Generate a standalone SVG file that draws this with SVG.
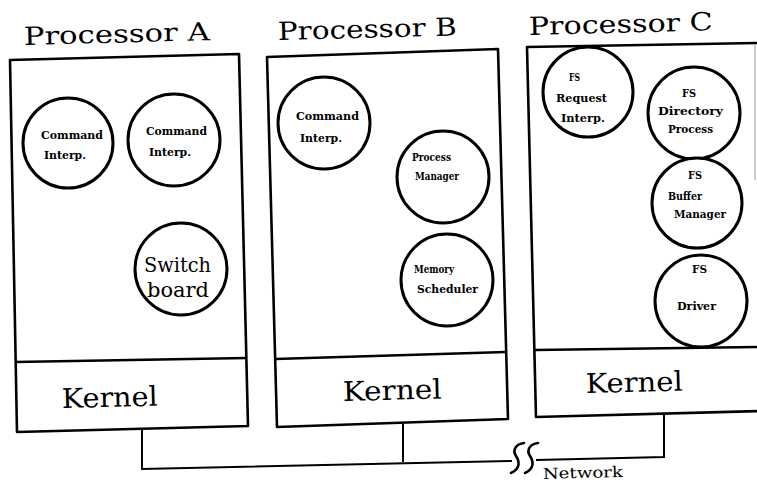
<svg xmlns="http://www.w3.org/2000/svg" width="757" height="483" viewBox="0 0 757 483">
<style>
.box{fill:none;stroke:#000;stroke-width:2.6;stroke-linejoin:round}
.div{fill:none;stroke:#000;stroke-width:2.6}
.node{fill:#fff;stroke:#000;stroke-width:3}
.title{font-family:"DejaVu Serif","Liberation Serif",serif;font-size:25px;fill:#000}
.kern{font-family:"DejaVu Serif","Liberation Serif",serif;font-size:27px;fill:#000}
.sw{font-family:"DejaVu Serif","Liberation Serif",serif;font-size:20px;fill:#000}
.lbl{font-family:"DejaVu Serif","Liberation Serif",serif;font-weight:bold;font-size:10.5px;fill:#000}
.net{font-family:"DejaVu Serif","Liberation Serif",serif;font-size:15px;fill:#000}
.wire{fill:none;stroke:#000;stroke-width:2}
.brk{fill:none;stroke:#000;stroke-width:2.6;stroke-linecap:round}
</style>

<g id="processor-a">
  <text class="title" x="24" y="45" textLength="186" lengthAdjust="spacingAndGlyphs" transform="rotate(-1.5 24 45)">Processor A</text>
  <polygon class="box" points="10,60 239,54 248,426 17,432"/>
  <line class="div" x1="15" y1="362" x2="247" y2="358"/>
  <text class="kern" x="62" y="408" textLength="96" lengthAdjust="spacingAndGlyphs" transform="rotate(-1.5 62 408)">Kernel</text>
</g>
<g id="a-cmd1">
  <circle class="node" cx="68" cy="143" r="45"/>
  <text class="lbl" x="41" y="139" textLength="62" lengthAdjust="spacingAndGlyphs">Command</text>
  <text class="lbl" x="44" y="159" textLength="42" lengthAdjust="spacingAndGlyphs">Interp.</text>
</g>
<g id="a-cmd2">
  <circle class="node" cx="174" cy="140" r="46"/>
  <text class="lbl" x="146" y="135" textLength="61" lengthAdjust="spacingAndGlyphs">Command</text>
  <text class="lbl" x="149" y="156" textLength="42" lengthAdjust="spacingAndGlyphs">Interp.</text>
</g>
<g id="a-switchboard">
  <circle class="node" cx="181" cy="269" r="46"/>
  <text class="sw" x="144" y="272" textLength="67" lengthAdjust="spacingAndGlyphs">Switch</text>
  <text class="sw" x="147" y="297" textLength="62" lengthAdjust="spacingAndGlyphs">board</text>
</g>

<g id="processor-b">
  <text class="title" x="278" y="40" textLength="179" lengthAdjust="spacingAndGlyphs" transform="rotate(-1.5 278 40)">Processor B</text>
  <polygon class="box" points="267,57 498,49 508,419 277,427"/>
  <line class="div" x1="275" y1="359" x2="506" y2="352"/>
  <text class="kern" x="343" y="401" textLength="99" lengthAdjust="spacingAndGlyphs" transform="rotate(-1.5 343 401)">Kernel</text>
</g>
<g id="b-cmd">
  <circle class="node" cx="324" cy="123" r="46"/>
  <text class="lbl" x="296" y="120" textLength="63" lengthAdjust="spacingAndGlyphs">Command</text>
  <text class="lbl" x="300" y="142" textLength="42" lengthAdjust="spacingAndGlyphs">Interp.</text>
</g>
<g id="b-procmgr">
  <circle class="node" cx="443" cy="177" r="46"/>
  <text class="lbl" x="412" y="161" textLength="39" lengthAdjust="spacingAndGlyphs">Process</text>
  <text class="lbl" x="415" y="180" textLength="44" lengthAdjust="spacingAndGlyphs">Manager</text>
</g>
<g id="b-memsched">
  <circle class="node" cx="447" cy="280" r="46"/>
  <text class="lbl" x="414" y="273" textLength="40" lengthAdjust="spacingAndGlyphs">Memory</text>
  <text class="lbl" x="417" y="293" textLength="61" lengthAdjust="spacingAndGlyphs">Scheduler</text>
</g>

<g id="processor-c">
  <text class="title" x="529" y="35" textLength="184" lengthAdjust="spacingAndGlyphs" transform="rotate(-1.5 529 35)">Processor C</text>
  <polyline class="box" points="760,43 527,47 536,417 760,411"/>
  <line class="div" x1="535" y1="350" x2="760" y2="347"/>
  <line x1="755" y1="44" x2="755" y2="180" stroke="#bbb" stroke-width="1.5"/>
  <text class="kern" x="586" y="393" textLength="97" lengthAdjust="spacingAndGlyphs" transform="rotate(-1.5 586 393)">Kernel</text>
</g>
<g id="c-fsreq">
  <circle class="node" cx="588" cy="92" r="45"/>
  <text class="lbl" x="569" y="81" textLength="11" lengthAdjust="spacingAndGlyphs">FS</text>
  <text class="lbl" x="556" y="102" textLength="51" lengthAdjust="spacingAndGlyphs">Request</text>
  <text class="lbl" x="561" y="122" textLength="44" lengthAdjust="spacingAndGlyphs">Interp.</text>
</g>
<g id="c-fsdir">
  <circle class="node" cx="694" cy="113" r="46"/>
  <text class="lbl" x="682" y="97" textLength="14" lengthAdjust="spacingAndGlyphs">FS</text>
  <text class="lbl" x="658" y="115" textLength="65" lengthAdjust="spacingAndGlyphs">Directory</text>
  <text class="lbl" x="668" y="133" textLength="45" lengthAdjust="spacingAndGlyphs">Process</text>
</g>
<g id="c-fsbuf">
  <circle class="node" cx="697" cy="203" r="45"/>
  <text class="lbl" x="688" y="179" textLength="14" lengthAdjust="spacingAndGlyphs">FS</text>
  <text class="lbl" x="668" y="200" textLength="34" lengthAdjust="spacingAndGlyphs">Buffer</text>
  <text class="lbl" x="674" y="218" textLength="52" lengthAdjust="spacingAndGlyphs">Manager</text>
</g>
<g id="c-fsdrv">
  <circle class="node" cx="701" cy="301" r="46"/>
  <text class="lbl" x="692" y="273" textLength="15" lengthAdjust="spacingAndGlyphs">FS</text>
  <text class="lbl" x="677" y="310" textLength="39" lengthAdjust="spacingAndGlyphs">Driver</text>
</g>

<g id="connectors">
  <polyline class="wire" points="142,430 142,469 512,461"/>
  <line class="wire" x1="403" y1="424" x2="403" y2="462"/>
  <polyline class="wire" points="536,460 664,457 664,415"/>
  <path class="brk" d="M524,443 C516,444 512,450 516,456 C520,462 520,469 511,473"/>
  <path class="brk" d="M538,443 C530,444 526,450 530,456 C534,462 534,469 525,473"/>
  <text class="net" x="543" y="479" textLength="80" lengthAdjust="spacingAndGlyphs" transform="rotate(-1.5 543 479)">Network</text>
</g>
</svg>
